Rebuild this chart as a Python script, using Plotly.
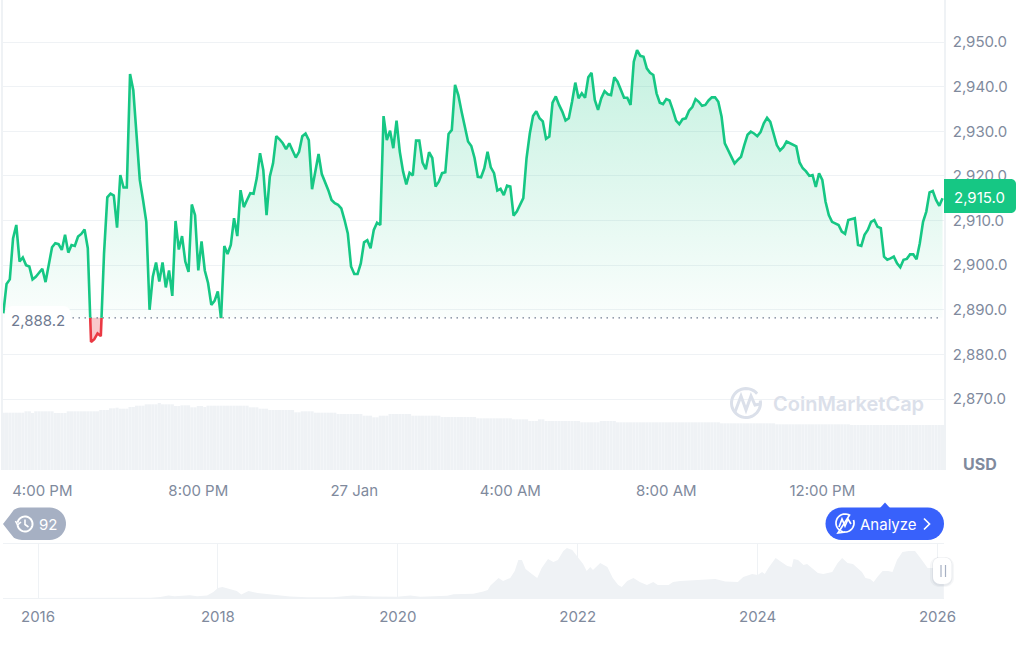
import numpy as np
import pandas as pd
import plotly.graph_objects as go

# ---------- data ----------
price = [
 2889.2,2895.8,2896.8,2906.0,2909.0,2900.8,2901.7,2900.0,2899.7,2896.8,
 2897.4,2898.3,2899.2,2896.2,2900.4,2904.0,2904.9,2904.7,2903.4,2906.8,
 2902.8,2904.5,2904.3,2906.4,2907.0,2908.0,2903.8,2882.8,2883.4,2884.7,
 2884.1,2902.7,2915.2,2916.0,2915.6,2908.4,2920.2,2917.4,2917.4,2942.8,
 2939.2,2928.8,2919.1,2914.6,2909.7,2890.0,2897.4,2900.6,2896.3,2900.6,
 2895.0,2898.8,2893.1,2909.9,2903.5,2906.5,2900.8,2898.5,2913.6,2911.2,
 2898.8,2905.3,2898.8,2896.0,2891.1,2892.0,2894.1,2888.1,2904.3,2902.5,
 2904.5,2910.5,2906.5,2916.8,2913.0,2914.6,2916.1,2916.0,2919.5,2925.1,
 2921.3,2911.2,2919.8,2922.8,2928.9,2928.2,2927.3,2926.0,2927.3,2925.7,
 2924.1,2925.4,2928.9,2929.5,2928.0,2917.0,2920.6,2924.9,2920.4,2918.7,
 2916.8,2914.6,2913.9,2913.5,2912.7,2910.1,2907.1,2899.7,2898.0,2898.0,
 2900.4,2905.1,2905.6,2903.8,2907.9,2909.5,2909.0,2933.4,2928.0,2930.1,
 2926.2,2932.4,2925.4,2921.0,2918.1,2920.7,2920.1,2927.9,2927.9,2923.0,
 2921.5,2925.3,2924.0,2917.6,2918.7,2920.6,2920.8,2929.4,2930.3,2940.4,
 2938.1,2934.4,2931.0,2927.7,2926.7,2924.0,2919.8,2919.7,2921.7,2925.4,
 2921.9,2920.6,2916.7,2917.1,2915.7,2917.8,2917.6,2911.1,2912.0,2913.7,
 2915.0,2924.0,2929.5,2933.4,2934.5,2932.9,2932.2,2928.3,2928.8,2936.4,
 2937.8,2935.9,2934.4,2932.4,2932.9,2936.6,2940.9,2937.4,2938.5,2937.5,
 2942.1,2943.1,2937.0,2934.8,2937.4,2939.0,2938.3,2938.1,2942.1,2941.1,
 2939.4,2937.5,2937.5,2935.9,2945.6,2948.2,2946.9,2946.7,2944.1,2943.1,
 2942.6,2938.5,2936.4,2936.1,2937.2,2936.9,2934.8,2932.4,2931.6,2932.7,
 2932.9,2934.6,2935.4,2937.2,2936.6,2935.7,2935.9,2936.9,2937.6,2937.6,
 2936.6,2933.3,2927.3,2925.7,2924.5,2922.8,2923.6,2924.3,2926.9,2929.2,
 2929.9,2929.5,2928.9,2929.8,2931.8,2933.0,2932.1,2929.5,2926.9,2925.7,
 2926.4,2927.7,2927.3,2926.9,2926.6,2923.0,2921.7,2921.0,2920.0,2920.2,
 2917.5,2920.6,2919.1,2914.2,2911.2,2909.7,2909.4,2909.0,2907.5,2907.0,
 2910.1,2910.3,2910.5,2904.5,2904.3,2906.8,2907.9,2909.7,2910.1,2908.6,
 2908.3,2901.9,2901.2,2901.5,2901.9,2900.4,2899.5,2901.2,2901.4,2902.4,
 2902.4,2901.3,2904.9,2909.7,2912.0,2916.3,2916.6,2914.6,2913.3,2915.0,
]
base_price = 2888.2
last_price = "2,915.0"

volume = [
 57.3,57.3,57.3,57.3,57.3,57.3,57.3,58.7,58.7,57.0,58.7,58.7,58.7,58.7,58.7,58.7,
 57.0,57.0,57.0,57.0,58.7,58.7,58.7,58.7,58.7,58.7,58.7,58.7,58.7,58.7,
 60.0,60.0,60.0,61.7,61.7,62.3,61.3,61.3,61.3,63.0,63.0,64.3,64.3,64.3,
 65.7,65.7,65.7,65.7,67.0,65.7,65.7,65.7,65.7,64.0,64.0,64.7,64.7,64.7,
 62.7,62.7,64.0,64.0,63.0,64.3,64.3,64.3,64.3,64.3,64.3,64.3,64.3,64.3,
 64.3,64.3,64.3,64.3,62.7,62.7,62.7,61.3,61.3,61.3,60.0,60.0,60.0,60.0,
 60.0,60.0,60.0,60.0,57.7,57.7,58.7,58.7,58.7,58.7,57.3,57.3,57.3,57.3,
 57.3,57.3,57.3,56.0,56.0,56.0,56.0,56.0,56.0,56.0,56.0,54.3,54.3,54.3,
 52.7,52.7,54.3,54.3,54.3,56.0,56.0,56.0,56.0,56.0,56.0,56.0,
 54.3,54.3,54.3,54.3,54.3,54.3,54.3,54.3,54.3,
 53.0,53.0,53.0,53.0,53.0,53.0,53.0,53.0,53.0,53.0,53.0,
 51.7,51.7,51.7,51.7,51.7,51.7,51.7,51.7,51.7,51.7,51.7,
 50.7,50.7,50.7,50.7,50.7,49.0,49.0,49.0,50.7,50.7,
 49.0,49.0,49.0,49.0,49.0,49.0,49.0,49.0,49.0,49.0,49.0,
 47.7,47.7,47.7,47.7,47.7,47.7,49.0,49.0,49.0,49.0,49.0,
 47.7,47.7,47.7,47.7,47.7,47.7,47.7,47.7,47.7,47.7,47.7,47.7,47.7,47.7,47.7,47.7,
 47.7,47.7,47.7,47.7,47.7,47.7,47.7,47.7,47.7,47.7,47.7,47.7,47.7,47.7,47.7,47.7,
 46.7,46.7,46.7,46.7,46.7,46.7,46.7,46.7,46.7,46.7,46.7,46.7,46.7,46.7,46.7,46.7,46.7,
 45.7,45.7,45.7,45.7,45.7,45.7,45.7,45.7,45.7,45.7,45.7,45.7,45.7,45.7,45.7,45.7,
 45.7,45.7,45.7,45.7,45.7,45.7,45.7,
 45.0,45.0,45.0,45.0,45.0,45.0,45.0,45.0,45.0,45.0,45.0,45.0,45.0,45.0,45.0,
 45.0,45.0,45.0,45.0,45.0,45.0,45.0,45.0,45.0,45.0,45.0,45.0,45.0,45.0,
]

nav_years = [
 2015.67,2016.69,2017.25,2017.36,2017.45,2017.52,2017.61,2017.69,2017.77,2017.86,
 2017.88,2017.95,2018.00,2018.05,2018.14,2018.21,2018.26,2018.34,2018.44,2018.55,
 2018.64,2018.80,2018.99,2019.28,2019.50,2019.73,2019.99,2020.14,2020.25,2020.55,
 2020.62,2020.84,2020.95,2021.00,2021.03,2021.12,2021.17,2021.25,2021.30,2021.34,
 2021.38,2021.42,2021.49,2021.55,2021.60,2021.67,2021.73,2021.78,2021.84,2021.88,
 2021.94,2022.00,2022.06,2022.10,2022.14,2022.17,2022.25,2022.33,2022.39,2022.45,
 2022.49,2022.55,2022.62,2022.69,2022.77,2022.84,2022.89,2023.01,2023.06,2023.14,
 2023.42,2023.53,2023.64,2023.78,2023.84,2023.94,2024.00,2024.05,2024.08,2024.12,
 2024.20,2024.27,2024.33,2024.38,2024.40,2024.45,2024.51,2024.55,2024.61,2024.67,
 2024.73,2024.83,2024.89,2024.94,2025.00,2025.06,2025.16,2025.20,2025.25,2025.29,
 2025.34,2025.39,2025.45,2025.50,2025.55,2025.61,2025.68,2025.75,2025.81,2025.89,
 2025.94,2026.07,
]
nav_values = [
 0,0,0.3,1,2.5,1.7,2,2.8,1.7,2.3,
 2.5,6,10,11,9,7,3.5,7,5,4,
 2.5,1.5,0.7,0.8,2.5,1.5,1.3,2.5,1.3,2.3,
 3.7,4.3,6.5,8,12.5,20,17,20,27,38,
 38,29,24,20,30,39,36,38,47,50,
 48,41,34,27,31,28,35,31,20,13,
 11,17,20,16,13,16,13,13,16,17,
 18,19,16.5,16,21,24,23,26,24,30,
 40,36,32,31,39,38,33,34,29,25,
 24,26,35,40,35,34,26,20,19,16,
 22,27,27,26,38,46,47,47,40,30,
 30,32,
]

y_ticks = [2870,2880,2890,2900,2910,2920,2930,2940,2950]
time_ticks = ["2026-01-26 16:00","2026-01-26 20:00","2026-01-27 00:00",
              "2026-01-27 04:00","2026-01-27 08:00","2026-01-27 12:00"]
time_labels = ["4:00 PM","8:00 PM","27 Jan","4:00 AM","8:00 AM","12:00 PM"]
year_ticks = [2016,2018,2020,2022,2024,2026]

GREEN, RED, BLUE = "#16c784", "#ea3943", "#3861fb"
GRID, BAR, MUTED = "#eff2f5", "#eff2f5", "#808a9d"
FONT = "Inter"
W, H = 1024, 648

# ---------- helpers ----------
def px(x, y):
    return x / W, 1 - y / H

def poly(points, close=True):
    s = "M" + " L".join(f"{px(x,y)[0]:.5f},{px(x,y)[1]:.5f}" for x, y in points)
    return s + (" Z" if close else "")

def rrect(x0, y0, x1, y1, r, left=True, right=True):
    pts = []
    def arc(cx, cy, a0, a1):
        for a in np.linspace(a0, a1, 9):
            pts.append((cx + r*np.cos(a), cy + r*np.sin(a)))
    if right:
        arc(x1-r, y0+r, -np.pi/2, 0); arc(x1-r, y1-r, 0, np.pi/2)
    else:
        pts.extend([(x1, y0), (x1, y1)])
    if left:
        arc(x0+r, y1-r, np.pi/2, np.pi); arc(x0+r, y0+r, np.pi, 1.5*np.pi)
    else:
        pts.extend([(x0, y1), (x0, y0)])
    return pts

def arc_pts(cx, cy, r, a0, a1, n=40):
    return [(cx + r*np.cos(a), cy + r*np.sin(a)) for a in np.radians(np.linspace(a0, a1, n))]

shapes = []
def add_path(points, fill=None, line=None, width=0, close=True, layer="above"):
    shapes.append(dict(type="path", xref="paper", yref="paper", layer=layer,
                       path=poly(points, close),
                       fillcolor=fill if fill else "rgba(0,0,0,0)",
                       line=dict(color=line if line else "rgba(0,0,0,0)", width=width)))

# ---------- split price at the base line ----------
times = pd.date_range("2026-01-26 15:00", periods=len(price), freq="5min")
X, up, dn, line_up, line_dn = [], [], [], [], []
for i, v in enumerate(price):
    if i and (price[i-1]-base_price)*(v-base_price) < 0:
        f = (base_price-price[i-1])/(v-price[i-1])
        X.append(times[i-1] + (times[i]-times[i-1])*f)
        up.append(base_price); dn.append(base_price)
        line_up.append(base_price); line_dn.append(base_price)
    X.append(times[i])
    up.append(max(v, base_price)); dn.append(min(v, base_price))
    line_up.append(v if v >= base_price else None)
    line_dn.append(v if v <= base_price else None)
base_line = [base_price]*len(X)

fig = go.Figure()
fig.add_bar(x=times[:len(volume)], y=volume, yaxis="y2", marker=dict(color=BAR, line=dict(width=0)), hoverinfo="skip")
fig.add_scatter(x=X, y=base_line, mode="lines", line=dict(width=0), hoverinfo="skip")
fig.add_scatter(x=X, y=up, mode="lines", line=dict(width=0), fill="tonexty",
                fillgradient=dict(type="vertical", start=2950, stop=base_price,
                                  colorscale=[[0,"rgba(22,199,132,0.26)"],[1,"rgba(22,199,132,0.02)"]]),
                hoverinfo="skip")
fig.add_scatter(x=X, y=base_line, mode="lines", line=dict(width=0), hoverinfo="skip")
fig.add_scatter(x=X, y=dn, mode="lines", line=dict(width=0), fill="tonexty",
                fillcolor="rgba(234,57,67,0.28)", hoverinfo="skip")
fig.add_scatter(x=[times[1], times[-1]], y=[base_price, base_price], mode="lines",
                line=dict(color="#58667e", width=1.3, dash="1.3px,4.7px"), hoverinfo="skip")
fig.add_scatter(x=X, y=line_dn, mode="lines", line=dict(color=RED, width=2.6), hoverinfo="skip")
fig.add_scatter(x=X, y=line_up, mode="lines", line=dict(color=GREEN, width=2.6), hoverinfo="skip")
fig.add_scatter(x=nav_years, y=nav_values, xaxis="x2", yaxis="y3", mode="lines",
                line=dict(width=0), fill="tozeroy", fillcolor=BAR, hoverinfo="skip")

# ---------- decorations ----------
ann = []
def text(x, y, s, size=15, color=MUTED, anchor="center", weight=None):
    f = dict(family=FONT, size=size, color=color)
    if weight: f["weight"] = weight
    ann.append(dict(xref="paper", yref="paper", x=px(x,y)[0], y=px(x,y)[1], text=s, showarrow=False,
                    xanchor=anchor, yanchor="middle", font=f))

# base label
add_path(rrect(5, 306, 71, 334, 8), fill="white")
text(38, 320, "2,888.2", 15, "#6f7a91")

# last price badge
add_path(rrect(944, 179, 1016, 213, 5, left=False), fill=GREEN)
text(979.5, 197, last_price, 15, "white")
text(980, 464, "USD", 16, MUTED, weight=700)

# watermark
WM = "#dbe0ea"
add_path(arc_pts(746, 403, 14.5, -10, 320), line=WM, width=3, close=False, layer="above")
add_path([(735,412),(741,396),(746,410),(751,396),(755,405),(760,404)], line=WM, width=3, close=False)
text(771, 403.5, "CoinMarketCap", 20, WM, anchor="left", weight=600)

# history pill
pill = [(3,524),(10,515)] + arc_pts(22,523.7,16.2,-120,-90,6) + arc_pts(49.8,523.7,16.2,-90,90,20) + arc_pts(22,523.7,16.2,90,120,6) + [(10,533)]
add_path(pill, fill="#a6b0c3")
add_path(arc_pts(25,524,7.5,-170,170), line="white", width=2, close=False)
add_path([(15.5,521),(17.5,525),(21,522)], line="white", width=1.6, close=False)
add_path([(25,519.5),(25,524.5),(28.5,527)], line="white", width=1.6, close=False)
text(48, 524, "92", 15, "white")

# analyze pill
add_path([(880,508),(885,502.5),(890,508)], fill=BLUE)
add_path(rrect(825.5, 507.5, 944, 540, 16.2), fill=BLUE)
add_path(arc_pts(845,523,9,-20,300) + [(838,533),(846,532)], line="white", width=1.7, close=False)
add_path([(839,527),(842,519),(845,526),(848,519),(851,524)], line="white", width=1.7, close=False)
text(857.5, 524, "Analyze", 15, "white", anchor="left")
add_path([(924,518.5),(929.5,524),(924,529.5)], line="white", width=1.7, close=False)

# navigator handle
add_path(rrect(930, 557, 954, 587, 9), fill="rgba(88,102,126,0.05)")
add_path(rrect(932, 557, 952.5, 586, 8), fill="rgba(88,102,126,0.08)")
add_path(rrect(933, 557.5, 951.5, 584, 7), fill="white")
add_path([(941,565),(941,577)], line="#a6b0c3", width=1.2, close=False)
add_path([(945.5,565),(945.5,577)], line="#a6b0c3", width=1.2, close=False)

# ---------- layout ----------
t0 = times[0]
m5 = pd.Timedelta(minutes=5)
main_x0 = t0 - m5*(0.3/3.25)
main_x1 = t0 + m5*((944-3.3)/3.25)
tickfont = dict(family=FONT, size=15, color=MUTED)

fig.update_layout(
    template="none",
    width=W, height=H, autosize=False, showlegend=False, bargap=0.04,
    margin=dict(l=0, r=0, t=0, b=0, autoexpand=False), paper_bgcolor="white", plot_bgcolor="rgba(0,0,0,0)",
    shapes=shapes, annotations=ann, hovermode=False,
    xaxis=dict(domain=[3/W, 944/W], range=[main_x0, main_x1], type="date", anchor="y", automargin=False,
               tickmode="array", tickvals=time_ticks, ticktext=time_labels, tickfont=tickfont,
               showgrid=False, zeroline=False, ticks="", ticklabelstandoff=10, fixedrange=True),
    yaxis=dict(domain=[1-470/H, 1], range=[2950-428/4.4625, 2950+42/4.4625], anchor="x", side="right", automargin=False,
               tickmode="array", tickvals=y_ticks, tickformat=",.1f", tickfont=tickfont,
               showgrid=True, gridcolor=GRID, gridwidth=1.2, zeroline=False, ticks="",
               ticklabelstandoff=4, showline=True, linecolor=GRID, linewidth=1.5, mirror=True),
    yaxis2=dict(domain=[1-470/H, 1], range=[0, 470], overlaying="y", visible=False, anchor="x", automargin=False),
    xaxis2=dict(domain=[3/W, 944/W], range=[2016-35/89.95, 2016+906/89.95], anchor="y3", automargin=False,
                tickmode="array", tickvals=year_ticks, tickformat="d", tickfont=tickfont,
                showgrid=True, gridcolor=GRID, zeroline=False, ticks="", ticklabelstandoff=5,
                showline=True, linecolor=GRID, mirror=True),
    yaxis3=dict(domain=[1-598/H, 1-544/H], range=[0, 54], anchor="x2", visible=False, automargin=False),
)

fig.write_html("out.html", config={"responsive": False, "displayModeBar": False},
               post_script="document.body.style.margin='0';document.body.style.overflow='hidden';")
